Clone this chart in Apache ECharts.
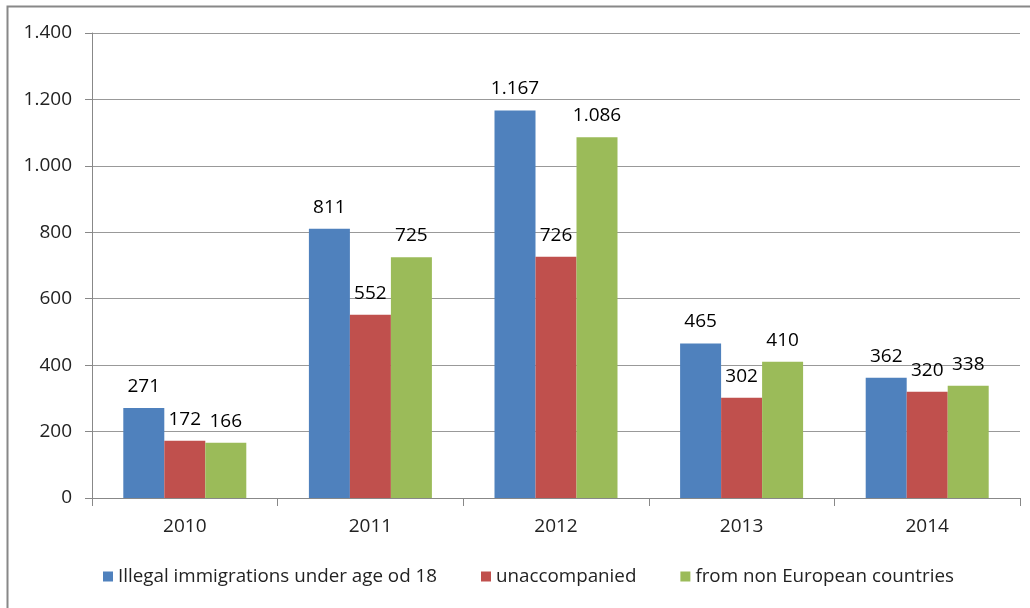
<!DOCTYPE html>
<html>
<head>
<meta charset="utf-8">
<script src="https://cdn.jsdelivr.net/npm/echarts@6/dist/echarts.min.js"></script>
<style>
  html, body { margin: 0; padding: 0; background: #fff; }
  #main { width: 1030px; height: 608px; }
</style>
</head>
<body>
<div id="main"></div>
<script>
var years = ['2010', '2011', '2012', '2013', '2014'];
var illegalUnder18 = [271, 811, 1167, 465, 362];
var unaccompanied = [172, 552, 726, 302, 320];
var nonEuropean = [166, 725, 1086, 410, 338];
var seriesNames = ['Illegal immigrations under age od 18', 'unaccompanied', 'from non European countries'];
var colors = ['#4F81BD', '#C0504D', '#9BBB59'];

var fontName = 'Open Sans';

// 1.167 style thousands separator
function fmt(v) {
    return String(v).replace(/\B(?=(\d{3})+(?!\d))/g, '.');
}

var chart = echarts.init(document.getElementById('main'));

function makeSeries(name, data, color) {
    return {
        name : name,
        type : 'bar',
        data : data,
        barWidth : 41,
        barGap : '0%',
        itemStyle : { color : color },
        label : {
            show : true,
            position : 'top',
            distance : 12,
            color : '#000',
            fontFamily : fontName,
            fontSize : 19,
            formatter : function(p) { return fmt(p.value); }
        }
    };
}

var option = {
    animation : false,
    backgroundColor : '#fff',
    graphic : [{
        type : 'rect',
        shape : { x : 7.5, y : 6.5, width : 1100, height : 700 },
        style : { fill : 'none', stroke : '#888', lineWidth : 2 }
    }],
    grid : { left : 92, right : 10, top : 33, bottom : 110 },
    legend : {
        bottom : 17,
        left : 98,
        itemWidth : 10,
        itemHeight : 10,
        itemGap : 44,
        icon : 'rect',
        textStyle : { fontFamily : fontName, fontSize : 18.8, color : '#222' },
        data : seriesNames
    },
    xAxis : {
        type : 'category',
        data : years,
        axisLine : { lineStyle : { color : '#888' } },
        axisTick : { show : true, length : 8, lineStyle : { color : '#888' } },
        axisLabel : { fontFamily : fontName, fontSize : 19, color : '#222', margin : 19 }
    },
    yAxis : {
        type : 'value',
        min : 0,
        max : 1400,
        interval : 200,
        axisLine : { show : true, lineStyle : { color : '#888' } },
        axisTick : { show : true, length : 7, inside : false, lineStyle : { color : '#888' } },
        splitLine : { lineStyle : { color : '#999' } },
        axisLabel : { fontFamily : fontName, fontSize : 19, color : '#222', margin : 20, formatter : fmt }
    },
    series : [
        makeSeries(seriesNames[0], illegalUnder18, colors[0]),
        makeSeries(seriesNames[1], unaccompanied, colors[1]),
        makeSeries(seriesNames[2], nonEuropean, colors[2])
    ]
};

chart.setOption(option);
</script>
</body>
</html>
